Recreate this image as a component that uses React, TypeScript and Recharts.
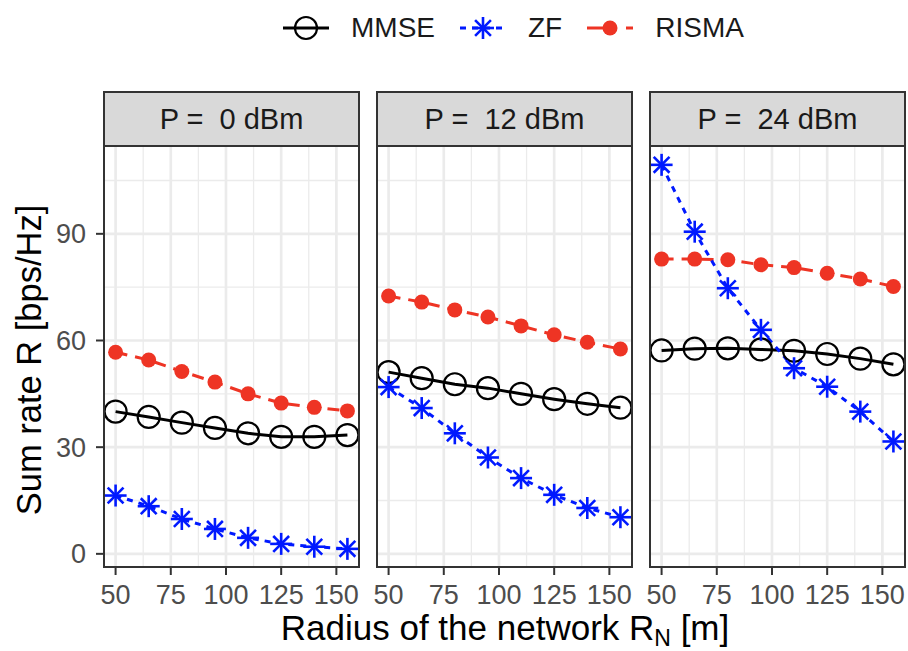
import React from 'react';
import { LineChart, Line, XAxis, YAxis, ReferenceLine } from 'recharts';

// network radius (m)
const RADIUS = [50, 65, 80, 95, 110, 125, 140, 155];
const PANELS = ['P =  0 dBm', 'P =  12 dBm', 'P =  24 dBm'];

// sum rate per panel
const MMSE_0 = [40.0, 38.5, 36.9, 35.4, 33.9, 32.9, 32.9, 33.4];
const ZF_0 = [16.4, 13.4, 9.8, 7.0, 4.5, 2.8, 2.0, 1.4];
const RISMA_0 = [56.7, 54.5, 51.3, 48.3, 45.0, 42.4, 41.2, 40.2];

const MMSE_12 = [51.1, 49.4, 47.7, 46.6, 45.0, 43.5, 42.2, 41.1];
const ZF_12 = [46.9, 41.0, 33.9, 27.1, 21.3, 16.6, 12.9, 10.3];
const RISMA_12 = [72.5, 70.8, 68.6, 66.6, 64.1, 61.6, 59.5, 57.6];

const MMSE_24 = [57.2, 57.7, 57.8, 57.5, 57.1, 56.2, 54.9, 53.3];
const ZF_24 = [109.4, 90.6, 74.7, 63.0, 52.2, 47.0, 40.0, 31.6];
const RISMA_24 = [82.9, 82.9, 82.7, 81.3, 80.5, 78.9, 77.3, 75.2];

const X_TICKS = [50, 75, 100, 125, 150];
const X_MINOR = [62.5, 87.5, 112.5, 137.5];
const Y_TICKS = [0, 30, 60, 90];
const Y_MINOR = [15, 45, 75, 105];

const FONT = "'Liberation Sans', Arial, Helvetica, sans-serif";
const BLUE = '#0019ff';
const RED = '#ee3424';

const series = [
  { mmse: MMSE_0, zf: ZF_0, risma: RISMA_0 },
  { mmse: MMSE_12, zf: ZF_12, risma: RISMA_12 },
  { mmse: MMSE_24, zf: ZF_24, risma: RISMA_24 },
];

const OpenCircle = ({ cx, cy }: any) => (
  <circle cx={cx} cy={cy} r={11} fill="none" stroke="#000" strokeWidth={2.2} />
);

const Asterisk = ({ cx, cy }: any) => {
  const r = 11;
  const d = r * 0.72;
  return (
    <g stroke={BLUE} strokeWidth={2.6}>
      <line x1={cx - r} y1={cy} x2={cx + r} y2={cy} />
      <line x1={cx} y1={cy - r} x2={cx} y2={cy + r} />
      <line x1={cx - d} y1={cy - d} x2={cx + d} y2={cy + d} />
      <line x1={cx - d} y1={cy + d} x2={cx + d} y2={cy - d} />
    </g>
  );
};

const FilledDot = ({ cx, cy }: any) => <circle cx={cx} cy={cy} r={7.5} fill={RED} />;

// plot areas in page pixels
const PLOT_TOP = 146;
const PLOT_BOTTOM = 567;
const PLOT_W = 255;
const LEFTS = [104, 377, 650];

function Panel({ idx }: { idx: number }) {
  const s = series[idx];
  const data = RADIUS.map((r, i) => ({ radius: r, mmse: s.mmse[i], zf: s.zf[i], risma: s.risma[i] }));
  const first = idx === 0;
  const ml = first ? 0 : 10;
  const yw = first ? 104 : 0;
  const mr = idx === 2 ? 3 : 10;
  const left = LEFTS[idx] - ml - yw;
  const width = ml + yw + PLOT_W + mr;
  const xh = 50;

  return (
    <div style={{ position: 'absolute', left, top: 0 }}>
      <LineChart
        width={width}
        height={651}
        data={data}
        margin={{ top: PLOT_TOP, right: mr, bottom: 651 - PLOT_BOTTOM - xh, left: ml }}
      >
        <XAxis
          dataKey="radius"
          type="number"
          domain={[44.75, 160.25]}
          ticks={X_TICKS}
          interval={0}
          allowDataOverflow
          height={xh}
          axisLine={false}
          tickLine={{ stroke: '#333', strokeWidth: 2 }}
          tickSize={8}
          tickMargin={10}
          tick={{ fontSize: 27, fill: '#4d4d4d', fontFamily: FONT }}
        />
        <YAxis
          type="number"
          domain={[-3.7, 114.7]}
          ticks={Y_TICKS}
          allowDataOverflow
          hide={!first}
          width={yw}
          axisLine={false}
          tickLine={{ stroke: '#333', strokeWidth: 2 }}
          tickSize={8}
          tickMargin={10}
          tick={{ fontSize: 27, fill: '#4d4d4d', fontFamily: FONT }}
        />
        {Y_MINOR.map((v) => (
          <ReferenceLine key={`ym${v}`} y={v} stroke="#ebebeb" strokeWidth={1.3} />
        ))}
        {X_MINOR.map((v) => (
          <ReferenceLine key={`xm${v}`} x={v} stroke="#ebebeb" strokeWidth={1.3} />
        ))}
        {Y_TICKS.map((v) => (
          <ReferenceLine key={`y${v}`} y={v} stroke="#ebebeb" strokeWidth={2.7} />
        ))}
        {X_TICKS.map((v) => (
          <ReferenceLine key={`x${v}`} x={v} stroke="#ebebeb" strokeWidth={2.7} />
        ))}
        <Line
          dataKey="risma"
          stroke={RED}
          strokeWidth={3}
          strokeDasharray="12 8"
          isAnimationActive={false}
          activeDot={false}
          dot={(p: any) => <FilledDot key={`r${p.index}`} cx={p.cx} cy={p.cy} />}
        />
        <Line
          dataKey="mmse"
          stroke="#000"
          strokeWidth={3}
          isAnimationActive={false}
          activeDot={false}
          dot={(p: any) => <OpenCircle key={`m${p.index}`} cx={p.cx} cy={p.cy} />}
        />
        <Line
          dataKey="zf"
          stroke={BLUE}
          strokeWidth={3}
          strokeDasharray="6 6"
          isAnimationActive={false}
          activeDot={false}
          dot={(p: any) => <Asterisk key={`z${p.index}`} cx={p.cx} cy={p.cy} />}
        />
      </LineChart>
      {/* panel border */}
      <div
        style={{
          position: 'absolute',
          left: ml + yw - 1,
          top: PLOT_TOP - 1,
          width: PLOT_W + 2,
          height: PLOT_BOTTOM - PLOT_TOP + 2,
          border: '2px solid #333',
          boxSizing: 'border-box',
          pointerEvents: 'none',
        }}
      />
      {/* strip */}
      <div
        style={{
          position: 'absolute',
          left: ml + yw - 1,
          top: 91,
          width: PLOT_W + 2,
          height: PLOT_TOP - 91 + 1,
          background: '#d9d9d9',
          border: '2px solid #333',
          boxSizing: 'border-box',
          display: 'flex',
          alignItems: 'center',
          justifyContent: 'center',
          fontFamily: FONT,
          fontSize: 29,
          color: '#1a1a1a',
          whiteSpace: 'pre',
        }}
      >
        {PANELS[idx]}
      </div>
    </div>
  );
}

function LegendKey({ kind }: { kind: string }) {
  const cy = 15;
  const cx = 23;
  return (
    <svg width={46} height={30} style={{ display: 'block' }}>
      {kind === 'mmse' && (
        <>
          <line x1={0} y1={cy} x2={46} y2={cy} stroke="#000" strokeWidth={3} />
          <OpenCircle cx={cx} cy={cy} />
        </>
      )}
      {kind === 'zf' && (
        <>
          <line x1={0} y1={cy} x2={46} y2={cy} stroke={BLUE} strokeWidth={3} strokeDasharray="6 6" />
          <Asterisk cx={cx} cy={cy} />
        </>
      )}
      {kind === 'risma' && (
        <>
          <line x1={0} y1={cy} x2={46} y2={cy} stroke={RED} strokeWidth={3} strokeDasharray="30 9" />
          <FilledDot cx={cx} cy={cy} />
        </>
      )}
    </svg>
  );
}

const LEGEND = [
  { kind: 'mmse', label: 'MMSE' },
  { kind: 'zf', label: 'ZF' },
  { kind: 'risma', label: 'RISMA' },
];

export default function App() {
  return (
    <div
      style={{
        position: 'absolute',
        left: 0,
        top: 0,
        width: 908,
        height: 651,
        background: '#fff',
        overflow: 'hidden',
        fontFamily: FONT,
      }}
    >
      {/* legend */}
      <div
        style={{
          position: 'absolute',
          left: 283,
          top: 13,
          display: 'flex',
          alignItems: 'center',
          height: 30,
        }}
      >
        {LEGEND.map((l, i) => (
          <div key={l.kind} style={{ display: 'flex', alignItems: 'center', marginRight: i < 2 ? 25 : 0 }}>
            <LegendKey kind={l.kind} />
            <span style={{ marginLeft: 22, fontSize: 28, color: '#1a1a1a' }}>{l.label}</span>
          </div>
        ))}
      </div>

      {/* axis titles */}
      <svg width={908} height={651} style={{ position: 'absolute', left: 0, top: 0 }}>
        <text
          x={0}
          y={0}
          transform="translate(41, 360) rotate(-90)"
          textAnchor="middle"
          fontSize={34.5}
          fontFamily={FONT}
          fill="#000"
        >
          Sum rate R [bps/Hz]
        </text>
        <text x={505} y={640} textAnchor="middle" fontSize={35} fontFamily={FONT} fill="#000">
          Radius of the network R
          <tspan fontSize={23} dy={6}>N</tspan>
          <tspan dy={-6}> [m]</tspan>
        </text>
      </svg>

      {[0, 1, 2].map((i) => (
        <Panel key={i} idx={i} />
      ))}
    </div>
  );
}
